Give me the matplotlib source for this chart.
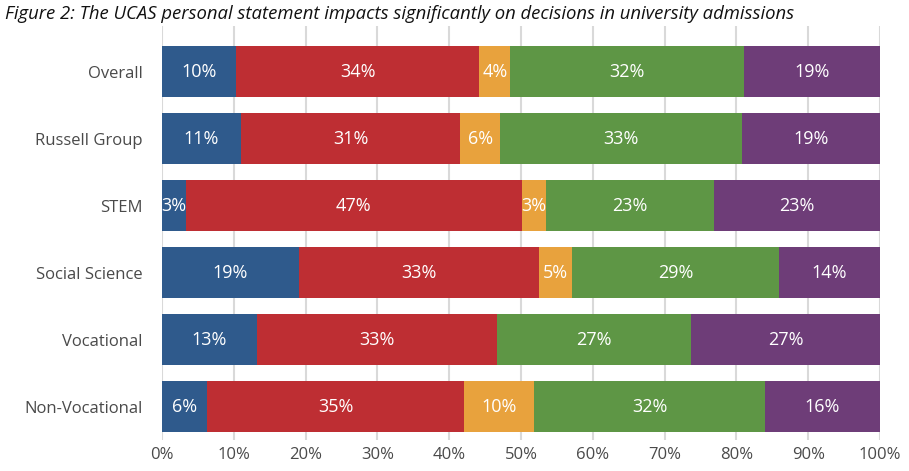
import matplotlib.pyplot as plt

# Datos (porcentajes por grupo)
grupos = ["Overall", "Russell Group", "STEM", "Social Science", "Vocational", "Non-Vocational"]
azul = [10.3, 11.0, 3.3, 19.1, 13.2, 6.3]
rojo = [33.9, 30.5, 46.8, 33.4, 33.5, 35.8]
naranja = [4.3, 5.6, 3.4, 4.6, 0.0, 9.7]
verde = [32.6, 33.7, 23.4, 28.8, 27.0, 32.2]
morado = [18.9, 19.2, 23.1, 14.1, 26.3, 16.0]

etiquetas_azul = ["10%", "11%", "3%", "19%", "13%", "6%"]
etiquetas_rojo = ["34%", "31%", "47%", "33%", "33%", "35%"]
etiquetas_naranja = ["4%", "6%", "3%", "5%", "", "10%"]
etiquetas_verde = ["32%", "33%", "23%", "29%", "27%", "32%"]
etiquetas_morado = ["19%", "19%", "23%", "14%", "27%", "16%"]

ticks_x = [0, 10, 20, 30, 40, 50, 60, 70, 80, 90, 100]

plt.rcParams['font.family'] = ['Open Sans', 'DejaVu Sans']

fig = plt.figure(figsize=(9.09, 4.71), dpi=100)
ax = fig.add_axes([162 / 909, 31 / 471, 718 / 909, 414 / 471])

series = [
    (azul, etiquetas_azul, "#2f5a8c"),
    (rojo, etiquetas_rojo, "#be2e33"),
    (naranja, etiquetas_naranja, "#e8a23d"),
    (verde, etiquetas_verde, "#5e9645"),
    (morado, etiquetas_morado, "#6e3d78"),
]

posiciones = list(range(len(grupos)))
izquierda = [0.0] * len(grupos)
for valores, etiquetas, color in series:
    ax.barh(posiciones, valores, left=izquierda, height=0.76, color=color, zorder=2)
    for i, (v, txt) in enumerate(zip(valores, etiquetas)):
        if v > 0 and txt:
            ax.text(izquierda[i] + v / 2, i, txt, ha='center', va='center',
                    color='white', fontsize=13, zorder=3)
    izquierda = [a + b for a, b in zip(izquierda, valores)]

ax.set_ylim(5.5, -0.68)
ax.set_xlim(0, 100)
ax.set_yticks(posiciones)
ax.set_yticklabels(grupos, fontsize=12, color="#4a4a4a")
ax.set_xticks(ticks_x)
ax.set_xticklabels([f"{t}%" for t in ticks_x], fontsize=12, color="#4a4a4a")
ax.tick_params(axis='x', length=0, pad=5)
ax.tick_params(axis='y', length=0, pad=14)

ax.grid(axis='x', color="#d9d9d9", linewidth=1.5, zorder=0)
ax.set_axisbelow(True)
for s in ax.spines.values():
    s.set_visible(False)

fig.text(5 / 909, 1 - 14 / 471, "Figure 2: The UCAS personal statement impacts significantly on decisions in university admissions",
         fontsize=13.3, style='italic', color="#111111", va='center', ha='left')

fig.savefig("out.png", dpi=100)
